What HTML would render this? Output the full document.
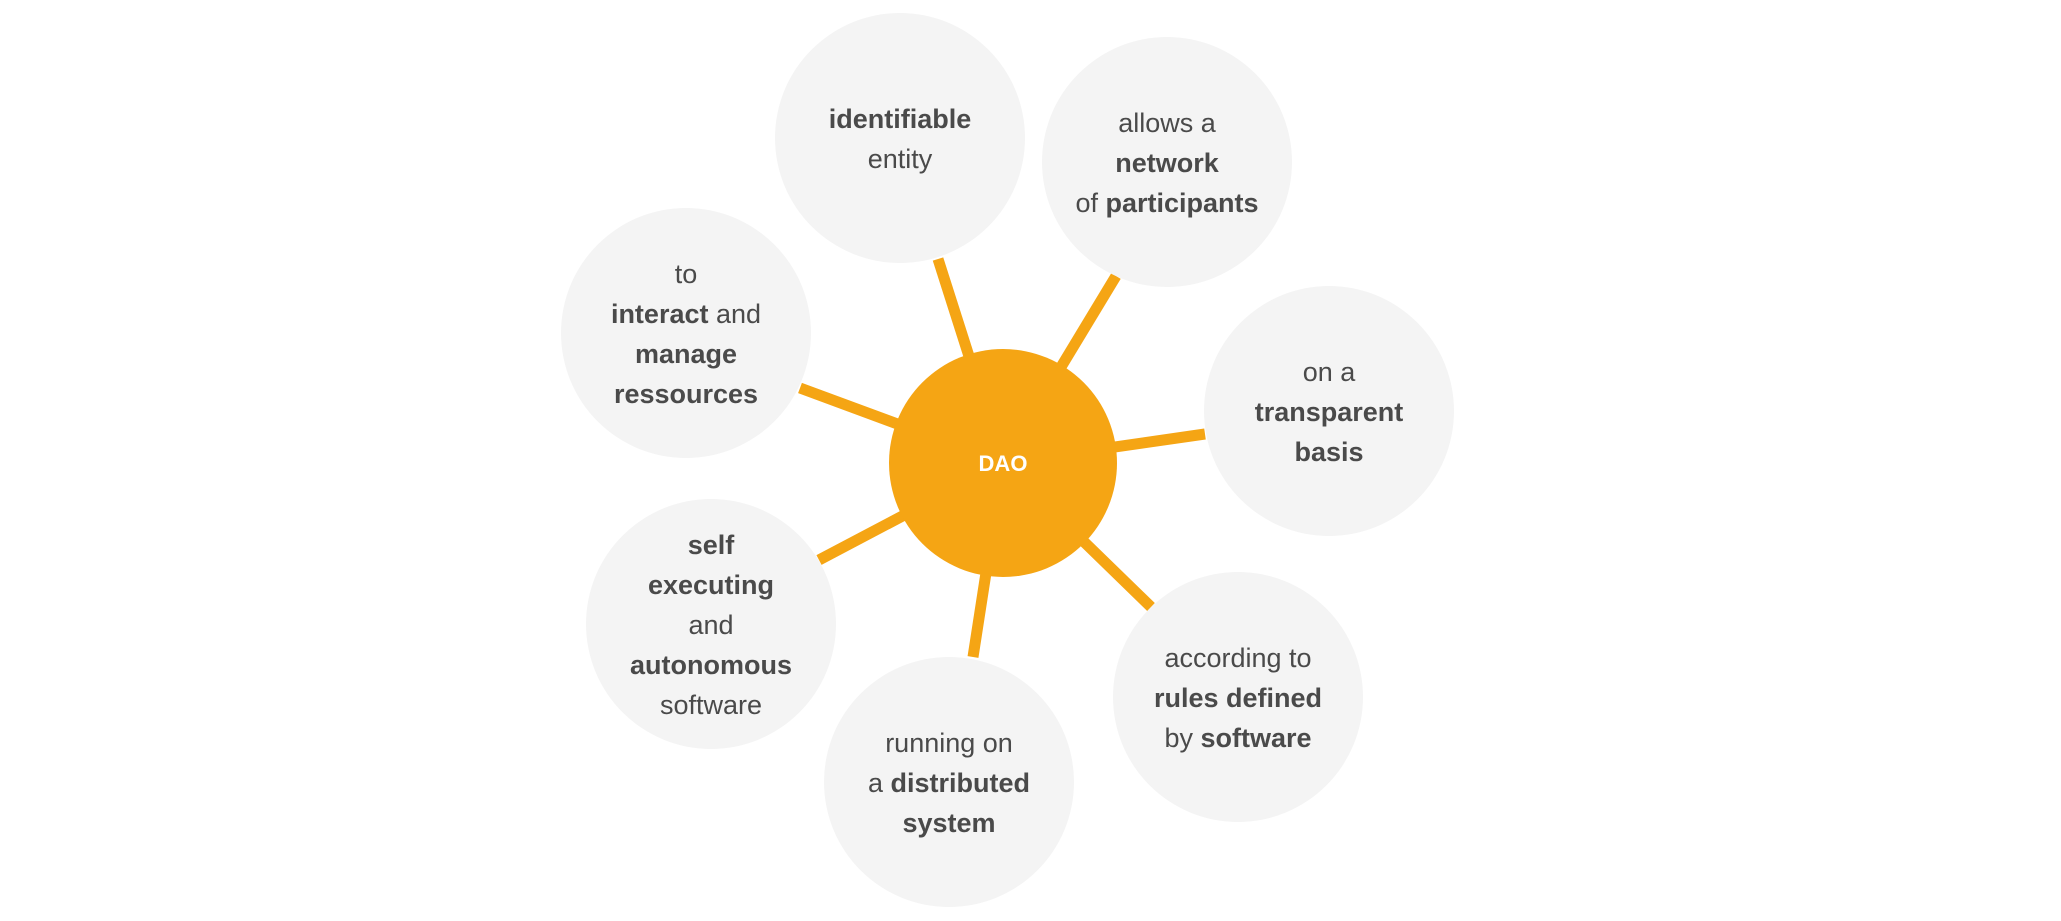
<!DOCTYPE html>
<html><head><meta charset="utf-8"><style>
body{margin:0;background:#fff;}
svg{display:block}
text{font-family:"Liberation Sans",sans-serif;fill:#4a4a4a;font-size:27px}
.b{font-weight:bold}
</style></head><body>
<svg id="chart" width="2061" height="921" viewBox="0 0 2061 921"></svg>
<script>
const ns="http://www.w3.org/2000/svg";
const svg=document.getElementById('chart');
const hub=[1003,463];
const nodeNames=["identifiable-entity","network-of-participants","transparent-basis","rules-defined-by-software","distributed-system","self-executing-software","interact-and-manage"];
const nodeCenters=[[900,138],[1167,162],[1329,411],[1238,697],[949,782],[711,624],[686,333]];
const spokeEnds=[[938,259],[1116,276],[1205,434],[1151,607],[973,657],[819,560],[800,388]];
const nodeLines=[
 [[["identifiable",1]],[["entity",0]]],
 [[["allows a",0]],[["network",1]],[["of ",0],["participants",1]]],
 [[["on a",0]],[["transparent",1]],[["basis",1]]],
 [[["according to",0]],[["rules defined",1]],[["by ",0],["software",1]]],
 [[["running on",0]],[["a ",0],["distributed",1]],[["system",1]]],
 [[["self",1]],[["executing",1]],[["and",0]],[["autonomous",1]],[["software",0]]],
 [[["to",0]],[["interact",1],[" and",0]],[["manage",1]],[["ressources",1]]]
];
function mk(t,a){const e=document.createElementNS(ns,t);for(const k in a)e.setAttribute(k,a[k]);return e;}
spokeEnds.forEach((p,i)=>{
 const l=mk('line',{x1:hub[0],y1:hub[1],x2:p[0],y2:p[1],stroke:'#f5a514','stroke-width':11});
 
 
 svg.appendChild(l);
});
nodeCenters.forEach((c,i)=>{
 const g=mk('g',{});
 
 
 g.appendChild(mk('circle',{cx:c[0],cy:c[1],r:125,fill:'#f4f4f4'}));
 const lines=nodeLines[i];const lh=40;
 lines.forEach((ln,j)=>{
  const y=c[1]+(j-(lines.length-1)/2)*lh+10;
  const t=mk('text',{x:c[0],y:y,'text-anchor':'middle'});
  ln.forEach(s=>{const ts=mk('tspan',{});if(s[1])ts.setAttribute('class','b');ts.textContent=s[0];t.appendChild(ts);});
  g.appendChild(t);
 });
 svg.appendChild(g);
});
const hc=mk('circle',{cx:hub[0],cy:hub[1],r:114,fill:'#f5a514'});


svg.appendChild(hc);
const ht=mk('text',{x:hub[0],y:hub[1]+8,'text-anchor':'middle','font-weight':'bold',style:'fill:#fff;font-size:22px'});
ht.textContent='DAO';


svg.appendChild(ht);
</script>
</body></html>
